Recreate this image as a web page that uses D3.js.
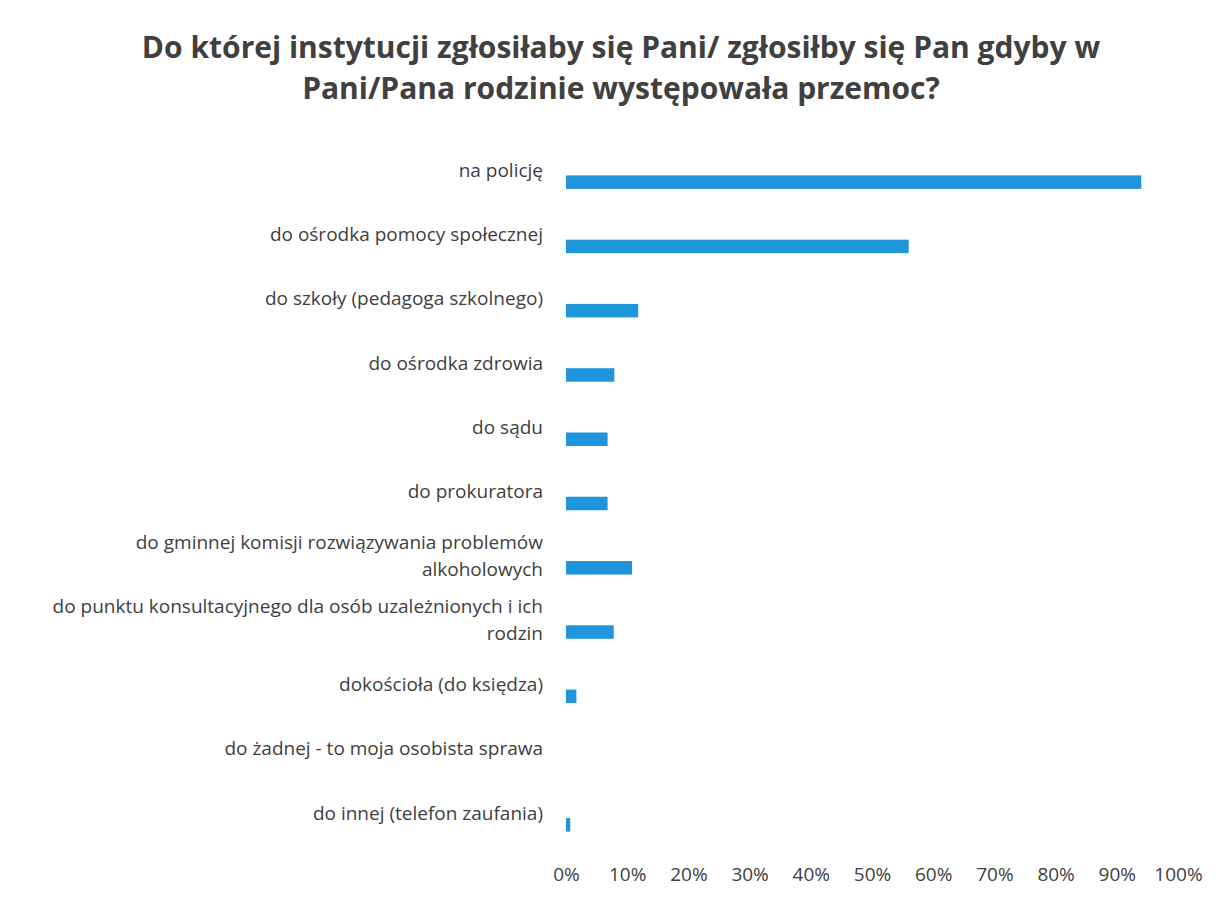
<!DOCTYPE html>
<html>
<head>
<meta charset="utf-8">
<script src="https://cdn.jsdelivr.net/npm/d3@7"></script>
<style>
  body { margin: 0; background: #fff; }
  text { font-family: "Open Sans", sans-serif; fill: #404040; }
</style>
</head>
<body>
<script>
// chart data
var categories = [
    "na policję",
    "do ośrodka pomocy społecznej",
    "do szkoły (pedagoga szkolnego)",
    "do ośrodka zdrowia",
    "do sądu",
    "do prokuratora",
    "do gminnej komisji rozwiązywania problemów\nalkoholowych",
    "do punktu konsultacyjnego dla osób uzależnionych i ich\nrodzin",
    "dokościoła (do księdza)",
    "do żadnej - to moja osobista sprawa",
    "do innej (telefon zaufania)"
];
var values = [94, 56, 11.8, 7.9, 6.8, 6.8, 10.8, 7.8, 1.7, 0, 0.7];
var tickValues = [0, 10, 20, 30, 40, 50, 60, 70, 80, 90, 100];
var titleLines = [
    "Do której instytucji zgłosiłaby się Pani/ zgłosiłby się Pan gdyby w",
    "Pani/Pana rodzinie występowała przemoc?"
];

var width = 1223;
var height = 899;

var svg = d3.select("body")
    .append("svg")
    .attr("width", width)
    .attr("height", height);

// title
svg.append("g")
    .selectAll("text")
    .data(titleLines)
    .enter()
    .append("text")
    .attr("x", 621)
    .attr("y", function (d, i) { return 58 + i * 41; })
    .attr("text-anchor", "middle")
    .style("font-size", "30px")
    .style("font-weight", "bold")
    .text(function (d) { return d; });

// scales
var x = d3.scaleLinear()
    .domain([0, 100])
    .range([566, 1178]);

var y = d3.scaleBand()
    .domain(categories)
    .range([150, 857])
    .paddingInner(0.79)
    .paddingOuter(0.395);

// bars
svg.selectAll(".bar")
    .data(values)
    .enter()
    .append("rect")
    .attr("class", "bar")
    .attr("x", x(0))
    .attr("y", function (d, i) { return y(categories[i]); })
    .attr("width", function (d) { return x(d) - x(0); })
    .attr("height", y.bandwidth())
    .attr("fill", "#1f96dc");

// category labels (can be two lines)
var labels = svg.append("g")
    .selectAll("text")
    .data(categories)
    .enter()
    .append("text")
    .attr("text-anchor", "end")
    .style("font-size", "19px")
    .attr("transform", function (d) {
        var lines = d.split("\n");
        var cy = y(d) + y.bandwidth() / 2 - 12;
        var top = cy - (lines.length - 1) * 27 / 2;
        return "translate(543," + top + ")";
    });

labels.selectAll("tspan")
    .data(function (d) { return d.split("\n"); })
    .enter()
    .append("tspan")
    .attr("x", 0)
    .attr("y", function (d, i) { return i * 27; })
    .attr("dy", "0.35em")
    .text(function (d) { return d; });

// x axis
var xAxis = svg.append("g")
    .attr("transform", "translate(0,865)")
    .call(d3.axisBottom(x)
        .tickValues(tickValues)
        .tickSize(0)
        .tickPadding(2)
        .tickFormat(function (d) { return d + "%"; }));

xAxis.select(".domain").remove();
xAxis.selectAll("text")
    .style("font-size", "19px")
    .style("font-family", "'Open Sans', sans-serif")
    .attr("fill", "#404040");
</script>
</body>
</html>
